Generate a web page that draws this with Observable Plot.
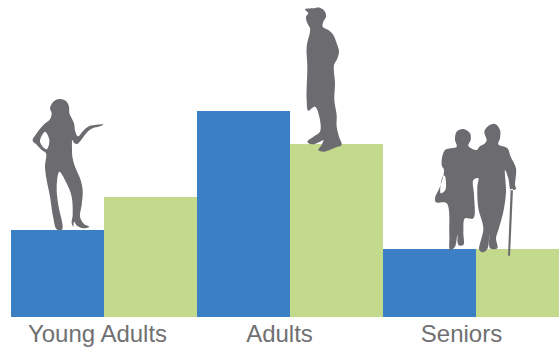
<!DOCTYPE html>
<html>
<head>
<meta charset="utf-8">
<script src="https://cdn.jsdelivr.net/npm/d3@7"></script>
<script src="https://cdn.jsdelivr.net/npm/@observablehq/plot@0.6"></script>
<style>
  html, body { margin: 0; padding: 0; background: #fff; overflow: hidden; }
  svg { display: block; }
</style>
</head>
<body>
<div id="chart"></div>
<script>
// Age groups and the two paired series drawn for each of them
const groups = ["Young Adults", "Adults", "Seniors"];
const seriesNames = ["Series 1", "Series 2"];
const series1Values = [87, 206, 68];
const series2Values = [120, 173, 68];
const seriesColors = ["#3b7fc4", "#c3da8c"];

const labelNudge = [-7, -11, -15];
const silhouetteColor = "#6c6c70";

// One row per bar; slot counts bars from the left edge of the chart
const rows = groups.flatMap((group, i) => [
  { group, series: seriesNames[0], value: series1Values[i], slot: 2 * i },
  { group, series: seriesNames[1], value: series2Values[i], slot: 2 * i + 1 }
]);

// Standing figures, in third-of-a-pixel units, each placed relative to the top of a bar
const woman = [[178,27],[198,33],[207,50],[208,70],[215,85],[222,100],[226,125],[234,139],[250,122],[268,108],[290,104],[311,103],[300,109],[278,115],[262,126],[245,148],[232,162],[222,158],[217,150],[216,175],[217,200],[225,230],[240,265],[248,300],[245,345],[240,380],[252,402],[268,410],[250,415],[232,408],[222,395],[220,410],[215,400],[218,375],[215,320],[200,280],[178,245],[170,290],[175,345],[188,410],[185,420],[170,418],[160,385],[150,320],[140,270],[135,230],[138,190],[125,180],[108,162],[98,152],[110,130],[130,105],[150,88],[155,70],[150,55],[160,35]];
const womanArmGap = [[135,125],[120,155],[140,178],[148,150]];
const man = [[130,25],[150,23],[165,35],[168,50],[160,65],[158,80],[175,90],[190,105],[200,130],[207,155],[200,180],[192,195],[195,250],[193,300],[200,345],[200,380],[207,410],[215,435],[195,443],[160,455],[145,450],[155,435],[160,420],[150,425],[125,433],[112,425],[130,410],[150,395],[148,350],[135,320],[115,332],[110,300],[112,200],[110,140],[120,95],[120,85],[112,70],[108,50],[115,40],[105,28]];
const couple = [[130,42],[150,55],[152,75],[145,92],[170,105],[178,95],[195,85],[200,75],[193,50],[205,33],[225,27],[240,45],[240,70],[235,88],[262,100],[272,125],[288,160],[285,210],[288,222],[280,225],[272,225],[265,190],[255,165],[258,230],[250,290],[235,345],[228,370],[232,400],[210,400],[208,360],[203,400],[190,412],[178,405],[190,340],[175,280],[172,215],[175,190],[160,195],[162,240],[160,310],[135,310],[130,350],[130,390],[115,390],[112,360],[105,395],[90,405],[88,360],[80,265],[48,262],[45,250],[62,210],[72,165],[65,150],[75,105],[110,95],[105,75],[110,50]];
const coupleBagGap = [[68,185],[74,182],[76,225],[62,235]];
const cane = [[272,222],[279,222],[270,422],[264,422]];

const closedCurve = d3.line().curve(d3.curveCatmullRomClosed.alpha(0.5));
const straight = (pts) => "M" + pts.join("L") + "Z";

const figures = [
  { slot: 0, value: series1Values[0], dx: -11, dy: -140, d: closedCurve(woman) + closedCurve(womanArmGap) },
  { slot: 3, value: series2Values[1], dx: -20, dy: -144, d: closedCurve(man) },
  { slot: 5, value: series2Values[2], dx: -56, dy: -134, d: closedCurve(couple) + closedCurve(coupleBagGap) + straight(cane) }
];

// Draws the figures on top of the bars, anchored through the chart's scales
function figuresMark(index, { x, y }) {
  const g = d3.create("svg:g").attr("fill", silhouetteColor).attr("fill-rule", "evenodd");
  for (const f of figures) {
    g.append("path")
      .attr("transform", `translate(${x(f.slot) + f.dx},${y(f.value) + f.dy}) scale(${1 / 3})`)
      .attr("d", f.d);
  }
  return g.node();
}

const chart = Plot.plot({
  width: 559,
  height: 348,
  marginTop: 0,
  marginLeft: 11,
  marginRight: 0,
  marginBottom: 31,
  x: { type: "linear", domain: [0, 6], range: [11, 569], axis: null },
  y: { domain: [0, 317], axis: null },
  color: { domain: seriesNames, range: seriesColors },
  style: { background: "#fff" },
  marks: [
    Plot.rectY(rows, {
      x1: "slot",
      x2: (d) => d.slot + 1,
      y: "value",
      fill: "series"
    }),
    figuresMark,
    ...groups.map((group, i) =>
      Plot.text([group], {
        x: () => 2 * i + 1,
        y: () => 0,
        text: (d) => d,
        dx: labelNudge[i],
        dy: 17,
        fontSize: 24,
        fontFamily: "Liberation Sans",
        fill: "#707072"
      })
    )
  ]
});

document.getElementById("chart").append(chart);
</script>
</body>
</html>
